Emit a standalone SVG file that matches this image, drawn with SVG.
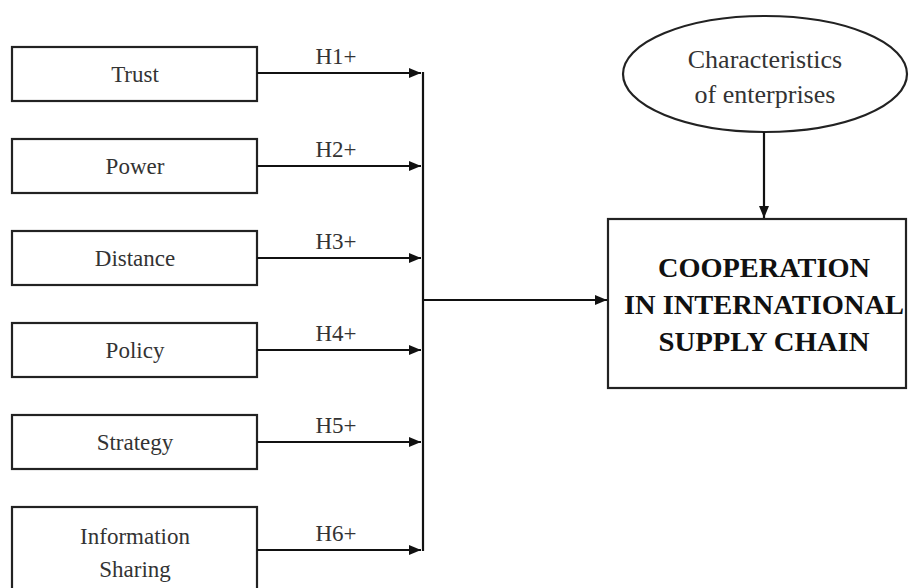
<svg xmlns="http://www.w3.org/2000/svg" width="909" height="588" viewBox="0 0 909 588">
<style>
.box{fill:#fff;stroke:#222;stroke-width:2.2}
.t{font-family:"Liberation Serif","Times New Roman",serif;font-size:23px;fill:#333;text-anchor:middle}
.e{font-family:"Liberation Serif","Times New Roman",serif;font-size:26px;fill:#333;text-anchor:middle}
.h{font-family:"Liberation Serif","Times New Roman",serif;font-size:23px;fill:#333;text-anchor:middle}
.b{font-family:"Liberation Serif","Times New Roman",serif;font-size:27px;font-weight:bold;fill:#111;text-anchor:middle}
.c{fill:none;stroke:#111;stroke-width:2.2}
</style>
<defs>
<marker id="ah" viewBox="0 0 12 10" refX="12" refY="5" markerWidth="12" markerHeight="10" markerUnits="userSpaceOnUse" orient="auto">
<path d="M0,0 L12,5 L0,10 Z" fill="#111"/>
</marker>
</defs>
<rect width="909" height="588" fill="#fff"/>
<g id="trust"><rect class="box" x="12" y="47" width="245" height="54"/><text class="t" x="135" y="82">Trust</text></g>
<g id="power"><rect class="box" x="12" y="139" width="245" height="54"/><text class="t" x="135" y="174">Power</text></g>
<g id="distance"><rect class="box" x="12" y="231" width="245" height="54"/><text class="t" x="135" y="266">Distance</text></g>
<g id="policy"><rect class="box" x="12" y="323" width="245" height="54"/><text class="t" x="135" y="358">Policy</text></g>
<g id="strategy"><rect class="box" x="12" y="415" width="245" height="54"/><text class="t" x="135" y="450">Strategy</text></g>
<g id="info"><rect class="box" x="12" y="507" width="245" height="100"/><text class="t" x="135" y="544">Information</text><text class="t" x="135" y="577">Sharing</text></g>
<g id="characteristics"><ellipse class="box" cx="765" cy="74" rx="142" ry="58"/><text class="e" x="765" y="68">Characteristics</text><text class="e" x="765" y="103">of enterprises</text></g>
<g id="cooperation"><rect class="box" x="608" y="219" width="298" height="169"/><text class="b" x="764" y="277" textLength="212" lengthAdjust="spacingAndGlyphs">COOPERATION</text><text class="b" x="764" y="314" textLength="280" lengthAdjust="spacingAndGlyphs">IN INTERNATIONAL</text><text class="b" x="764" y="351" textLength="211" lengthAdjust="spacingAndGlyphs">SUPPLY CHAIN</text></g>
<g id="connectors">
<path class="c" d="M257,73 H421" marker-end="url(#ah)"/>
<path class="c" d="M257,166 H421" marker-end="url(#ah)"/>
<path class="c" d="M257,258 H421" marker-end="url(#ah)"/>
<path class="c" d="M257,350 H421" marker-end="url(#ah)"/>
<path class="c" d="M257,442 H421" marker-end="url(#ah)"/>
<path class="c" d="M257,550 H421" marker-end="url(#ah)"/>
<path class="c" d="M423,72 V551"/>
<path class="c" d="M423,300 H607" marker-end="url(#ah)"/>
<path class="c" d="M764,132 V218" marker-end="url(#ah)"/>
<text class="h" x="336" y="64">H1+</text>
<text class="h" x="336" y="157">H2+</text>
<text class="h" x="336" y="249">H3+</text>
<text class="h" x="336" y="341">H4+</text>
<text class="h" x="336" y="433">H5+</text>
<text class="h" x="336" y="541">H6+</text>
</g>
</svg>
